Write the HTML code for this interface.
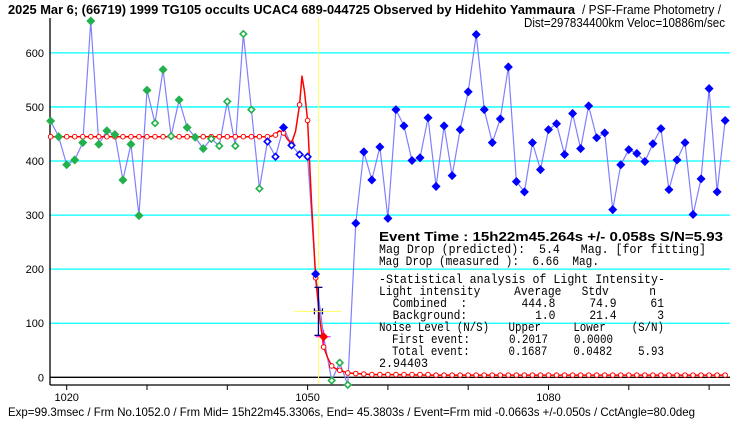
<!DOCTYPE html>
<html><head><meta charset="utf-8"><style>
html,body{margin:0;padding:0;background:#fff;}
svg{display:block;font-family:"Liberation Sans",sans-serif;}
.mono{font-family:"Liberation Mono",monospace;font-size:12.5px;}
</style></head><body>
<svg id="chart" width="740" height="425" viewBox="0 0 740 425">
<text x="8" y="14" font-size="13" font-weight="bold" textLength="567" lengthAdjust="spacingAndGlyphs">2025 Mar 6; (66719) 1999 TG105 occults UCAC4 689-044725 Observed by Hidehito Yammaura</text>
<text x="582" y="14" font-size="13" textLength="139" lengthAdjust="spacingAndGlyphs">/ PSF-Frame Photometry /</text>
<text x="524" y="27" font-size="12.5" textLength="201" lengthAdjust="spacingAndGlyphs">Dist=297834400km Veloc=10886m/sec</text>
<g id="grid"></g>
<g id="axes"></g>
<g id="series"></g>
<g>
<text x="379" y="241" font-size="13" font-weight="bold" textLength="344" lengthAdjust="spacingAndGlyphs">Event Time : 15h22m45.264s  +/- 0.058s  S/N=5.93</text>
<text class="mono" x="379" y="253" xml:space="preserve" textLength="327" lengthAdjust="spacingAndGlyphs">Mag Drop (predicted):  5.4   Mag. [for fitting]</text>
<text class="mono" x="379" y="265" xml:space="preserve" textLength="220" lengthAdjust="spacingAndGlyphs">Mag Drop (measured ):  6.66  Mag.</text>
<text class="mono" x="379" y="283" xml:space="preserve" textLength="286" lengthAdjust="spacingAndGlyphs">-Statistical analysis of Light Intensity-</text>
<text class="mono" x="379" y="295" xml:space="preserve" textLength="277" lengthAdjust="spacingAndGlyphs">Light intensity     Average   Stdv      n</text>
<text class="mono" x="379" y="307" xml:space="preserve" textLength="285" lengthAdjust="spacingAndGlyphs">  Combined  :        444.8     74.9     61</text>
<text class="mono" x="379" y="319" xml:space="preserve" textLength="285" lengthAdjust="spacingAndGlyphs">  Background:          1.0     21.4      3</text>
<text class="mono" x="379" y="331" xml:space="preserve" textLength="285" lengthAdjust="spacingAndGlyphs">Noise Level (N/S)   Upper     Lower    (S/N)</text>
<text class="mono" x="379" y="343" xml:space="preserve" textLength="234" lengthAdjust="spacingAndGlyphs">  First event:      0.2017    0.0000</text>
<text class="mono" x="379" y="355" xml:space="preserve" textLength="285" lengthAdjust="spacingAndGlyphs">  Total event:      0.1687    0.0482    5.93</text>
<text class="mono" x="379" y="367" textLength="49" lengthAdjust="spacingAndGlyphs">2.94403</text>
</g>
<text x="8" y="416" font-size="12" textLength="687" lengthAdjust="spacingAndGlyphs">Exp=99.3msec / Frm No.1052.0 / Frm Mid= 15h22m45.3306s,  End= 45.3803s / Event=Frm mid -0.0663s +/-0.050s / CctAngle=80.0deg</text>
</svg>
<script>
const frames = [1018,1019,1020,1021,1022,1023,1024,1025,1026,1027,1028,1029,1030,1031,1032,1033,1034,1035,1036,1037,1038,1039,1040,1041,1042,1043,1044,1045,1046,1047,1048,1049,1050,1051,1052,1053,1054,1055,1056,1057,1058,1059,1060,1061,1062,1063,1064,1065,1066,1067,1068,1069,1070,1071,1072,1073,1074,1075,1076,1077,1078,1079,1080,1081,1082,1083,1084,1085,1086,1087,1088,1089,1090,1091,1092,1093,1094,1095,1096,1097,1098,1099,1100,1101,1102];
const intensity = [474,445,393,402,434,659,431,456,449,365,431,299,531,470,569,446,513,462,444,423,441,428,510,428,635,495,349,436,408,462,429,412,408,191,75,-6,27,-14,285,417,365,426,294,495,465,401,406,480,353,465,373,458,528,634,495,434,478,574,362,343,434,384,458,469,412,488,423,502,443,452,310,393,421,414,399,432,460,347,402,434,301,367,534,343,475];
// marker kind: g=green filled, go=green open, bo=blue open, b=blue filled, r=red filled
const markerKind = ["g","g","g","g","g","g","g","g","g","g","g","g","g","go","g","go","g","g","g","g","go","go","go","go","go","go","go","bo","bo","b","bo","bo","bo","b","r","go","go","go","b","b","b","b","b","b","b","b","b","b","b","b","b","b","b","b","b","b","b","b","b","b","b","b","b","b","b","b","b","b","b","b","b","b","b","b","b","b","b","b","b","b","b","b","b","b","b"];
const modelFrames = [1018,1019,1020,1021,1022,1023,1024,1025,1026,1027,1028,1029,1030,1031,1032,1033,1034,1035,1036,1037,1038,1039,1040,1041,1042,1043,1044,1045,1045.5,1046,1046.5,1047,1047.5,1048,1048.5,1049,1049.3,1049.6,1050,1050.5,1051,1051.5,1052,1052.5,1053,1053.5,1054,1055,1056,1057,1058,1060,1065,1070,1080,1090,1102];
const modelValues = [445,445,445,445,445,445,445,445,445,445,445,445,445,445,445,445,445,445,445,445,445,445,445,445,445,445,445,445,446,450,456,452,440,433,455,504,557,530,475,320,184,110,56,36,21,16,13,8,7,6,5,5,4,4,4,4,4];
const modelCircleFrames = [1018,1019,1020,1021,1022,1023,1024,1025,1026,1027,1028,1029,1030,1031,1032,1033,1034,1035,1036,1037,1038,1039,1040,1041,1042,1043,1044,1045,1046,1047,1048,1049,1050,1051,1052,1053,1054,1055,1056,1057,1058,1059,1060,1061,1062,1063,1064,1065,1066,1067,1068,1069,1070,1071,1072,1073,1074,1075,1076,1077,1078,1079,1080,1081,1082,1083,1084,1085,1086,1087,1088,1089,1090,1091,1092,1093,1094,1095,1096,1097,1098,1099,1100,1101,1102];
const modelCircleValues = [445,445,445,445,445,445,445,445,445,445,445,445,445,445,445,445,445,445,445,445,445,445,445,445,445,445,445,445,448,452,433,504,475,184,56,21,13,8,7,6,5,5,5,5,5,5,5,5,4,4,4,4,4,4,4,4,4,4,4,4,4,4,4,4,4,4,4,4,4,4,4,4,4,4,4,4,4,4,4,4,4,4,4,4,4];
const yTicks = [0,100,200,300,400,500,600];
const xTickFrames = [1020,1030,1040,1050,1060,1070,1080,1090,1100];
const xTickLabels = ["1020","","","1050","","","1080","",""];
const eventFrame = 1051.35;
const eventValue = 122;

const NS="http://www.w3.org/2000/svg";
const X0=50,X1=730,YB=385,YT=18;
function xs(f){return 66.7+(f-1020)*8.03;}
function ys(v){return 377.3-v*0.5407;}
function mk(tag,attrs,parent){const e=document.createElementNS(NS,tag);for(const k in attrs)e.setAttribute(k,attrs[k]);parent.appendChild(e);return e;}
const grid=document.getElementById('grid'),axes=document.getElementById('axes'),ser=document.getElementById('series');
yTicks.forEach(t=>{
  if(t>0){const l=mk('line',{x1:X0,x2:X1,y1:ys(t),y2:ys(t),stroke:'#00ffff','stroke-width':1.3},grid);
  
  }
  const tx=mk('text',{x:44,y:ys(t)+4,'font-size':11,'text-anchor':'end'},axes);tx.textContent=t;
  
  
});
const zl=mk('line',{x1:X0,x2:X1,y1:ys(0),y2:ys(0),stroke:'#000','stroke-width':1.3},grid);


const ya=mk('line',{x1:X0,x2:X0,y1:YT,y2:YB,stroke:'#000','stroke-width':1.3},axes);


const xa=mk('line',{x1:X0,x2:X1,y1:YB,y2:YB,stroke:'#000','stroke-width':1.3},axes);


xTickFrames.forEach((f,i)=>{
  const tk=mk('line',{x1:xs(f),x2:xs(f),y1:YB,y2:YB+5,stroke:'#000'},axes);
  
  
  if(xTickLabels[i]){const tx=mk('text',{x:xs(f),y:YB+16,'font-size':11,'text-anchor':'middle'},axes);tx.textContent=xTickLabels[i];
  
  }
});
const ev=mk('line',{x1:xs(eventFrame),x2:xs(eventFrame),y1:YT,y2:YB,stroke:'#ffff60','stroke-width':1},grid);


const obs=mk('polyline',{points:frames.map((f,i)=>xs(f)+','+ys(intensity[i])).join(' '),fill:'none',stroke:'#8080ff','stroke-width':1.2},ser);


const mod=mk('polyline',{points:modelFrames.map((f,i)=>xs(f)+','+ys(modelValues[i])).join(' '),fill:'none',stroke:'#ff0000','stroke-width':1.5,'stroke-linejoin':'round'},ser);


modelCircleFrames.forEach((f,i)=>{
  const c=mk('circle',{cx:xs(f),cy:ys(modelCircleValues[i]),r:2.3,fill:'#fff',stroke:'#ff0000','stroke-width':1},ser);
  
  
});
const ex=xs(eventFrame),ey=ys(eventValue);
const eb=mk('g',{stroke:'#000080','stroke-width':1.3},ser);


mk('line',{x1:ex-24,x2:ex+23,y1:ey,y2:ey,stroke:'#ffff60'},ser);
mk('line',{x1:ex,x2:ex,y1:ey-24,y2:ey+24},eb);
mk('line',{x1:ex-4,x2:ex+4,y1:ey-24,y2:ey-24},eb);
mk('line',{x1:ex-4,x2:ex+4,y1:ey+24,y2:ey+24},eb);
mk('line',{x1:ex-4,x2:ex+4,y1:ey,y2:ey},eb);
mk('line',{x1:ex-4,x2:ex-4,y1:ey-3,y2:ey+3},eb);
mk('line',{x1:ex+4,x2:ex+4,y1:ey-3,y2:ey+3},eb);
const colors={g:'#22b14c',go:'#22b14c',b:'#0000ff',bo:'#0000ff',r:'#ff0000'};
frames.forEach((f,i)=>{
  const k=markerKind[i],x=xs(f),y=ys(intensity[i]);
  if(k==='r'){
    mk('line',{x1:x-8,x2:x+7,y1:y,y2:y,stroke:'#ff00ff'},ser);
    mk('line',{x1:x,x2:x,y1:y-7,y2:y+7,stroke:'#ff00ff'},ser);
  }
  const open=k.endsWith('o');const s=open?3.2:3.8;
  const d=mk('polygon',{points:`${x},${y-s} ${x+s},${y} ${x},${y+s} ${x-s},${y}`,fill:open?'#fff':colors[k],stroke:colors[k],'stroke-width':open?1.6:1},ser);
  
  
});
</script>
</body></html>
